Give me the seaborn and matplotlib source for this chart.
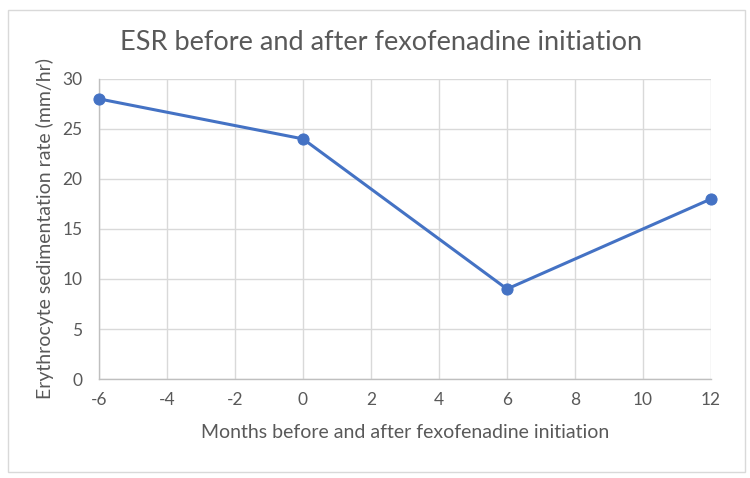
import matplotlib
matplotlib.use('Agg')
import matplotlib.pyplot as plt
import seaborn as sns
import pandas as pd
from matplotlib.patches import Rectangle

# Data
months = [-6, 0, 6, 12]
esr = [28, 24, 9, 18]
x_ticks = [-6, -4, -2, 0, 2, 4, 6, 8, 10, 12]
y_ticks = [0, 5, 10, 15, 20, 25, 30]

df = pd.DataFrame({'month': months, 'esr': esr})

sns.set_style('white')
plt.rcParams['font.family'] = ['Lato', 'DejaVu Sans']
plt.rcParams['axes.unicode_minus'] = False
text_color = '#595959'

fig = plt.figure(figsize=(7.5, 4.78), dpi=100)
ax = fig.add_axes([0.132, 0.207, 0.816, 0.628])

# Chart border
fig.patches.append(Rectangle((0.011, 0.012), 0.982, 0.968, transform=fig.transFigure,
                             fill=False, edgecolor='#D9D9D9', linewidth=1))

sns.lineplot(data=df, x='month', y='esr', ax=ax, color='#4472C4', linewidth=2.2,
             marker='o', markersize=8, markeredgecolor='#4472C4', clip_on=False, zorder=5)

ax.set_xlim(-6, 12)
ax.set_ylim(0, 30)
ax.set_xticks(x_ticks)
ax.set_yticks(y_ticks)
ax.grid(True, color='#D9D9D9', linewidth=1)
ax.set_axisbelow(True)
for side in ['top', 'right']:
    ax.spines[side].set_visible(False)
for side in ['left', 'bottom']:
    ax.spines[side].set_color('#BFBFBF')
    ax.spines[side].set_linewidth(1)
ax.tick_params(axis='x', length=0, labelsize=12.5, colors=text_color, pad=9)
ax.tick_params(axis='y', length=0, labelsize=12.5, colors=text_color, pad=12)

ax.set_xlabel('Months before and after fexofenadine initiation', fontsize=14,
              color=text_color, labelpad=12)
ax.set_ylabel('Erythrocyte sedimentation rate (mm/hr)', fontsize=14,
              color=text_color, labelpad=6)
# Title centred on the whole chart, like Excel
fig.text(0.508, 0.912, 'ESR before and after fexofenadine initiation', fontsize=19.5,
         color=text_color, ha='center', va='center')

fig.savefig('out.png', dpi=100)
